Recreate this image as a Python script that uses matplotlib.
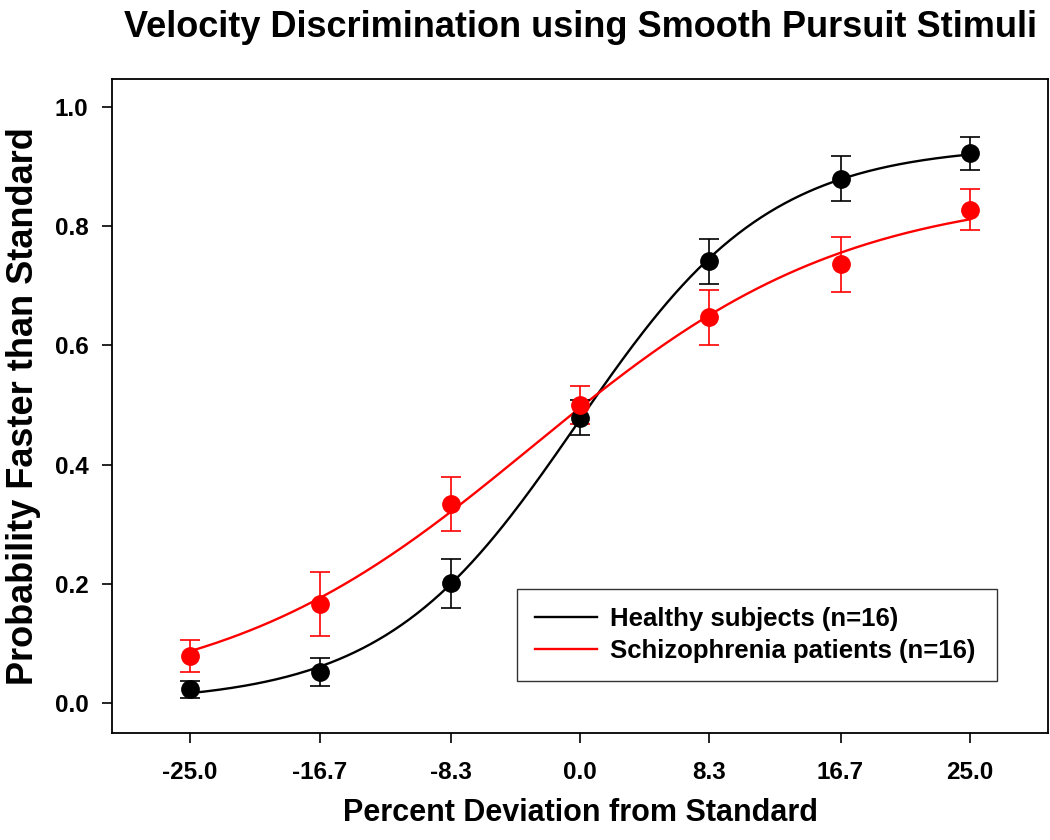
import numpy as np
import matplotlib
matplotlib.use("Agg")
import matplotlib.pyplot as plt

plt.rcParams["font.family"] = ["Liberation Sans", "DejaVu Sans"]
plt.rcParams["font.weight"] = "bold"
plt.rcParams["axes.labelweight"] = "bold"

# datos
desviacion = [-25.0, -16.7, -8.3, 0.0, 8.3, 16.7, 25.0]
tick_labels = ["-25.0", "-16.7", "-8.3", "0.0", "8.3", "16.7", "25.0"]

sanos_media = [0.023, 0.052, 0.201, 0.479, 0.741, 0.880, 0.922]
sanos_err = [0.015, 0.024, 0.041, 0.030, 0.038, 0.037, 0.028]

esquizo_media = [0.079, 0.166, 0.334, 0.500, 0.647, 0.736, 0.828]
esquizo_err = [0.027, 0.054, 0.046, 0.032, 0.046, 0.046, 0.035]

COL_SANOS, COL_ESQ = "black", "#ff0000"


def ajustar_sigmoide(x, y):
    # y = a / (1 + exp(-(x - x0) / b)), minimos cuadrados por rejilla (a cerrado)
    x = np.asarray(x)[None, None, :]
    y = np.asarray(y)
    x0 = np.linspace(-10, 10, 401)[:, None, None]
    b = np.linspace(2, 20, 361)[None, :, None]
    s = 1.0 / (1.0 + np.exp(-(x - x0) / b))
    a = (s @ y) / np.sum(s * s, axis=2)
    res = np.sum((a[..., None] * s - y) ** 2, axis=2)
    i, j = np.unravel_index(np.argmin(res), res.shape)
    return a[i, j], x0[i, 0, 0], b[0, j, 0]


fig = plt.figure(figsize=(10.5, 8.4), dpi=100)
ax = fig.add_axes([0.1067, 0.1274, 0.8914, 0.7786])

xs = np.linspace(min(desviacion), max(desviacion), 300)
for media, err, color, nombre in (
    (sanos_media, sanos_err, COL_SANOS, "Healthy subjects (n=16)"),
    (esquizo_media, esquizo_err, COL_ESQ, "Schizophrenia patients (n=16)"),
):
    a, x0, b = ajustar_sigmoide(desviacion, media)
    ax.plot(xs, a / (1 + np.exp(-(xs - x0) / b)), color=color, lw=1.7,
            label=nombre, zorder=2)
    ax.errorbar(desviacion, media, yerr=err, fmt="o", color=color, ms=12.5,
                elinewidth=1.2, capsize=7, capthick=1.2, zorder=3)

ax.set_xlim(-30, 30)
ax.set_ylim(-0.05, 1.047)
ax.set_xticks(desviacion)
ax.set_xticklabels(tick_labels)
ax.set_yticks([0.0, 0.2, 0.4, 0.6, 0.8, 1.0])
ax.set_yticklabels(["0.0", "0.2", "0.4", "0.6", "0.8", "1.0"])
ax.tick_params(axis="x", length=7, width=1.2, pad=13, labelsize=17.5)
ax.tick_params(axis="y", length=7, width=1.2, pad=10, labelsize=17.5)
for sp in ax.spines.values():
    sp.set_linewidth(1.3)

ax.set_xlabel("Percent Deviation from Standard", fontsize=22, labelpad=10)
ax.set_ylabel("Probability Faster than Standard", fontsize=26, labelpad=10)
ax.set_title("Velocity Discrimination using Smooth Pursuit Stimuli",
             fontsize=26, fontweight="bold", pad=30)

leg = ax.legend(loc="lower left", bbox_to_anchor=(0.433, 0.0795, 0.513, 0.154),
                mode="expand", fontsize=18.5, frameon=True, fancybox=False,
                borderaxespad=0, borderpad=0.7, handlelength=2.4,
                handletextpad=0.5, labelspacing=0.3)
leg.get_frame().set_edgecolor("black")
leg.get_frame().set_linewidth(1.0)

fig.savefig("out.png", dpi=100)
